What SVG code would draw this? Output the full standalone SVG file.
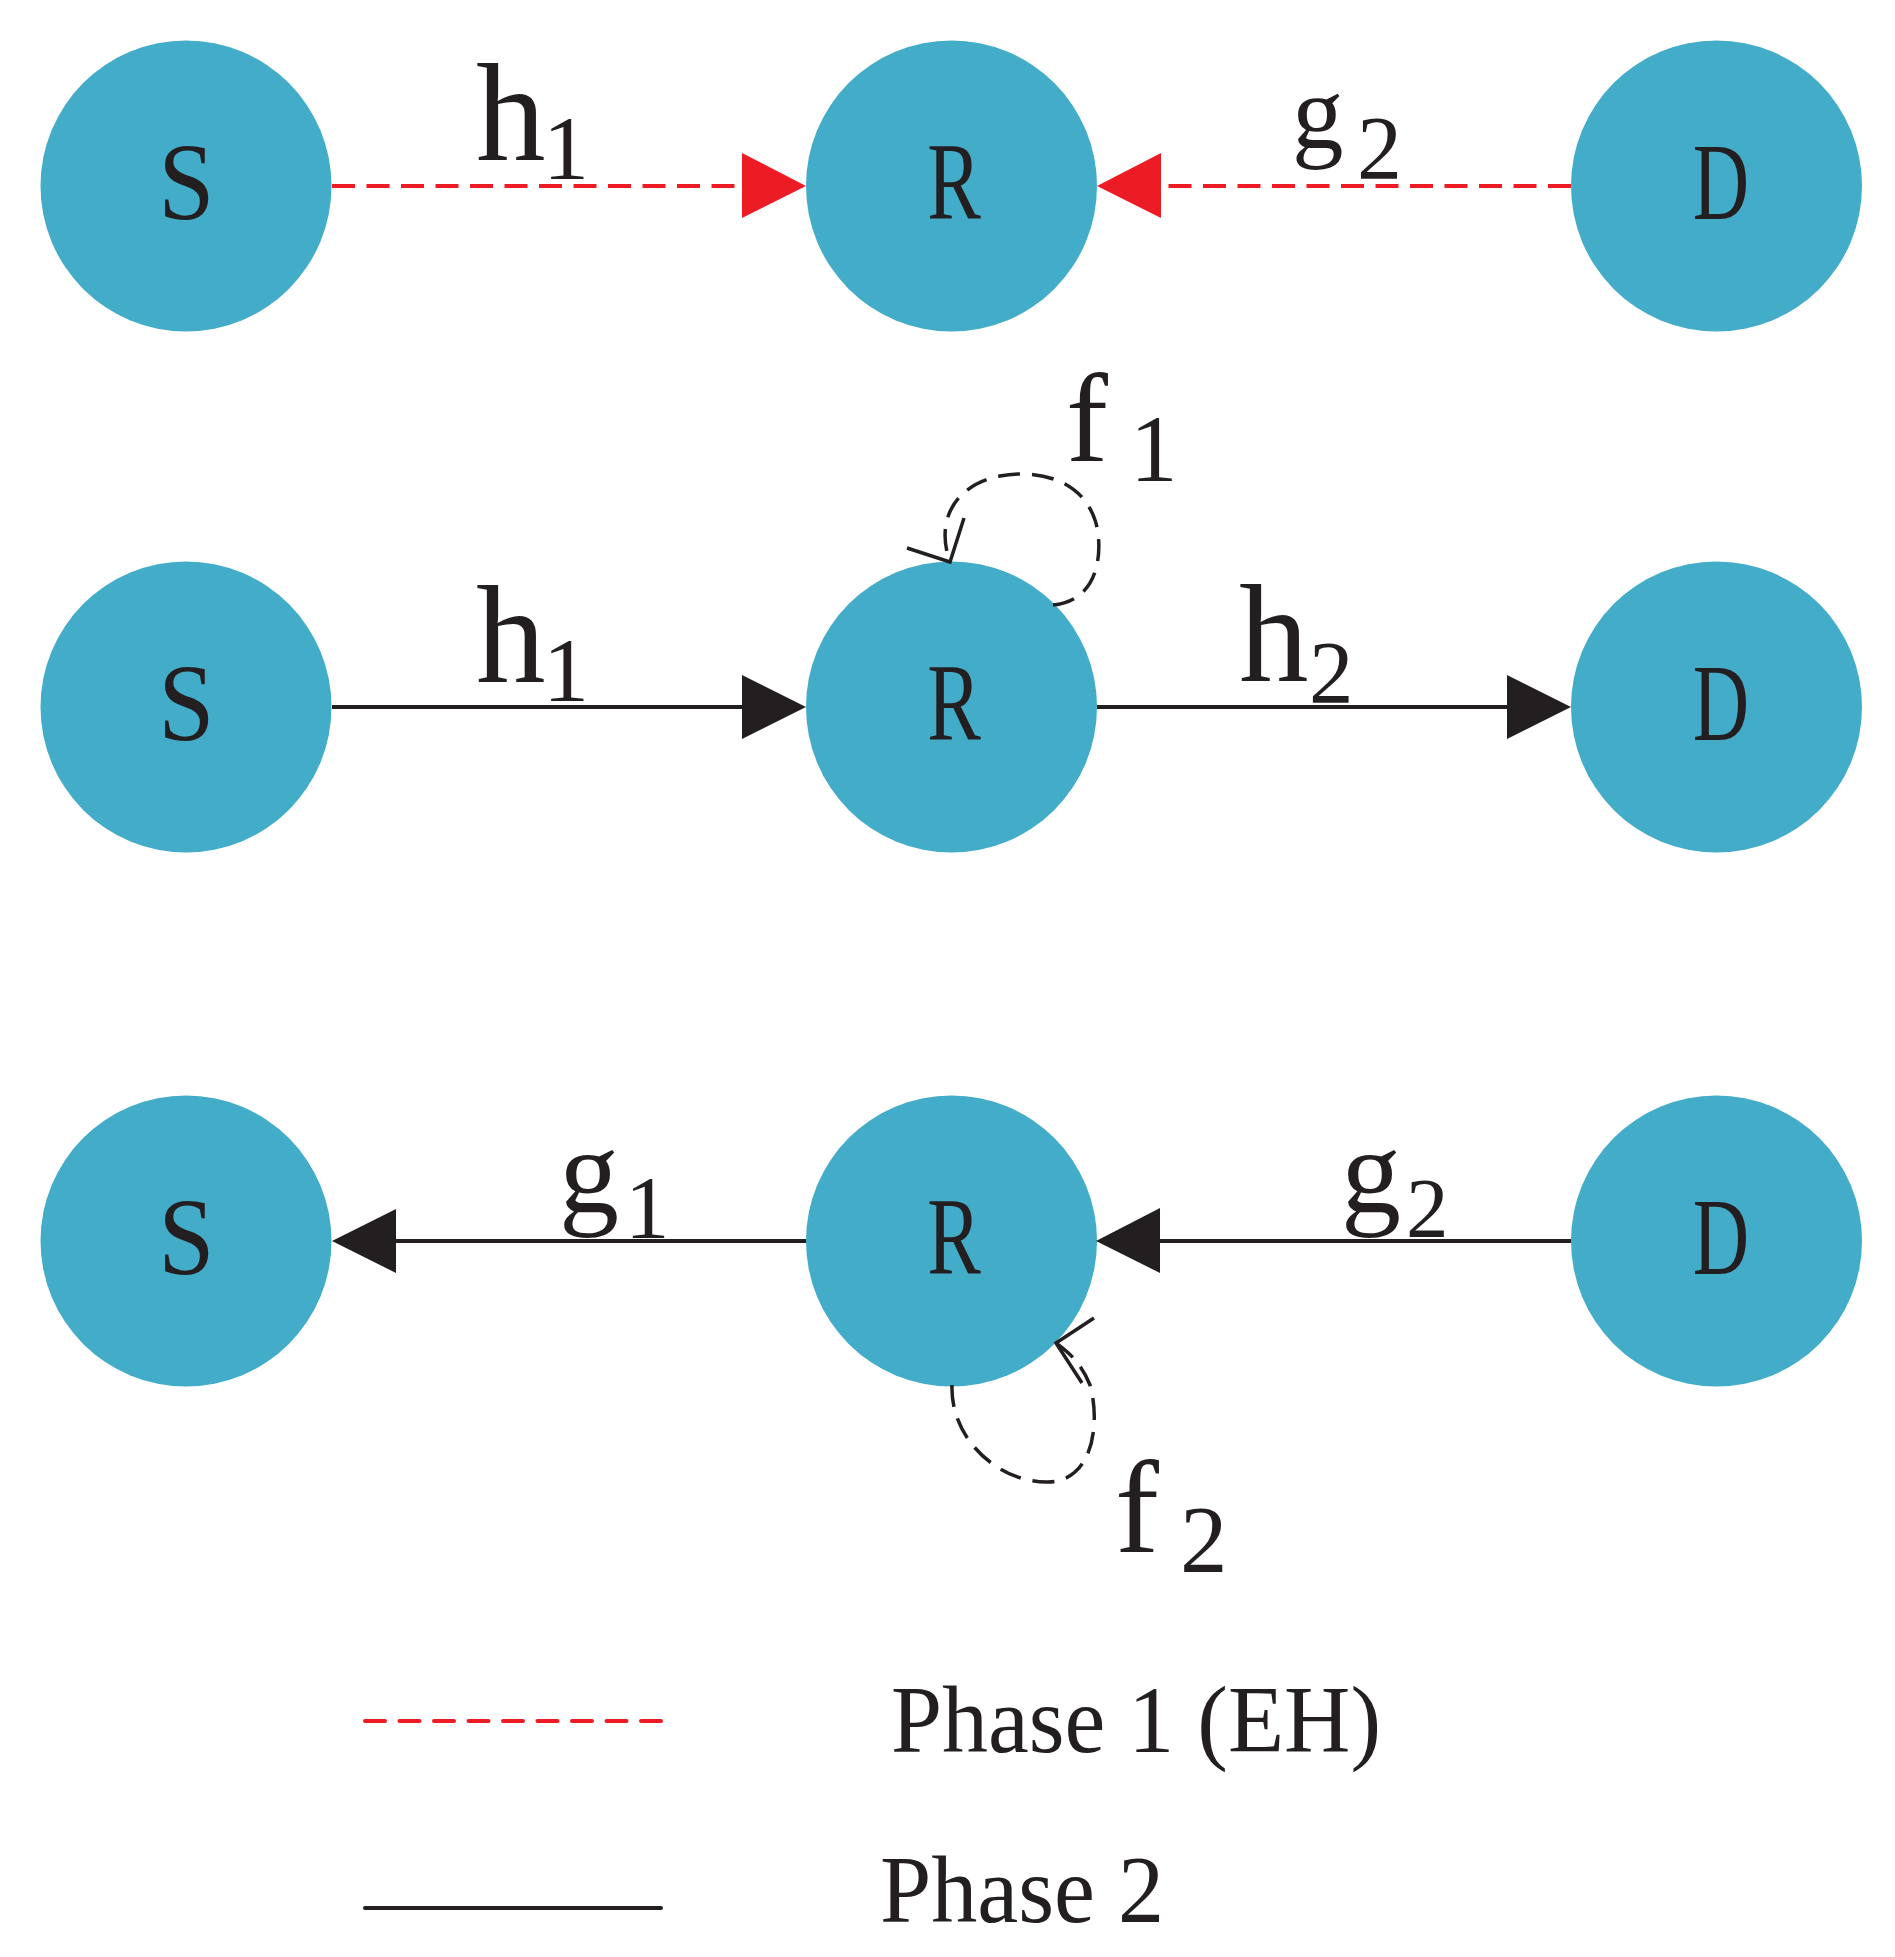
<svg xmlns="http://www.w3.org/2000/svg" width="1895" height="1957" viewBox="0 0 1895 1957">
<style>
.node{fill:#43acc8}
.nl{font-family:"Liberation Serif","Times New Roman",serif;font-size:110px;fill:#231f20;text-anchor:middle}
.lab{font-family:"Liberation Serif","Times New Roman",serif;fill:#231f20}
.red{stroke:#ed1c24;stroke-width:4;fill:none;stroke-dasharray:23 11.5}
.blk{stroke:#231f20;stroke-width:4;fill:none}
.loop{stroke:#231f20;stroke-width:3.5;fill:none;stroke-dasharray:22 12}
.ah{stroke:#231f20;stroke-width:3.5;fill:none}
.leg{font-family:"Liberation Serif","Times New Roman",serif;font-size:96px;fill:#231f20}
</style>
<g id="row1">
<g id="S1"><circle class="node" cx="186" cy="186" r="145.5"/><text class="nl" transform="translate(186.5,219) scale(0.92,1)">S</text></g>
<g id="R1"><circle class="node" cx="951.5" cy="186" r="145.5"/><text class="nl" transform="translate(954,219) scale(0.73,1)">R</text></g>
<g id="D1"><circle class="node" cx="1716.5" cy="186" r="145.5"/><text class="nl" transform="translate(1721,219) scale(0.71,1)">D</text></g>
</g>
<g id="row2">
<g id="S2"><circle class="node" cx="186" cy="707" r="145.5"/><text class="nl" transform="translate(186.5,740) scale(0.92,1)">S</text></g>
<g id="R2"><circle class="node" cx="951.5" cy="707" r="145.5"/><text class="nl" transform="translate(954,740) scale(0.73,1)">R</text></g>
<g id="D2"><circle class="node" cx="1716.5" cy="707" r="145.5"/><text class="nl" transform="translate(1721,740) scale(0.71,1)">D</text></g>
</g>
<g id="row3">
<g id="S3"><circle class="node" cx="186" cy="1241" r="145.5"/><text class="nl" transform="translate(186.5,1274) scale(0.92,1)">S</text></g>
<g id="R3"><circle class="node" cx="951.5" cy="1241" r="145.5"/><text class="nl" transform="translate(954,1274) scale(0.73,1)">R</text></g>
<g id="D3"><circle class="node" cx="1716.5" cy="1241" r="145.5"/><text class="nl" transform="translate(1721,1274) scale(0.71,1)">D</text></g>
</g>
<g id="connectors">
<line class="red" x1="332" y1="186" x2="745" y2="186"/>
<polygon fill="#ed1c24" points="742,153 806,186 742,218"/>
<line class="red" x1="1571" y1="186" x2="1158" y2="186"/>
<polygon fill="#ed1c24" points="1161,153 1097,186 1161,218"/>
<line class="blk" x1="332" y1="707" x2="745" y2="707"/>
<polygon fill="#231f20" points="742,675 806,707 742,739"/>
<line class="blk" x1="1097" y1="707" x2="1510" y2="707"/>
<polygon fill="#231f20" points="1507,675 1571,707 1507,739"/>
<line class="blk" x1="806" y1="1241" x2="393" y2="1241"/>
<polygon fill="#231f20" points="396,1209 332,1241 396,1273"/>
<line class="blk" x1="1571" y1="1241" x2="1157" y2="1241"/>
<polygon fill="#231f20" points="1160,1208 1096,1241 1160,1273"/>
<path class="loop" d="M1053,605 C1105,600 1102,540 1095,520 C1080,475 1030,470 1000,476 C955,485 935,520 950,562"/>
<polyline class="ah" points="907,548 950,562 964,518"/>
<path class="loop" d="M952,1385 C950,1440 1000,1483 1048,1482 C1095,1481 1100,1420 1090,1385 C1080,1360 1065,1350 1056,1343"/>
<polyline class="ah" points="1094,1318 1056,1343 1082,1383"/>
</g>
<g id="labels">
<text class="lab"><tspan x="476" y="160" font-size="139">h</tspan><tspan x="543" y="179" font-size="92">1</tspan></text>
<text class="lab"><tspan x="1292" y="148" font-size="103">g</tspan><tspan x="1357" y="179" font-size="90">2</tspan></text>
<text class="lab"><tspan x="1066" y="461" font-size="126">f</tspan><tspan x="1130" y="481" font-size="95">1</tspan></text>
<text class="lab"><tspan x="476" y="682" font-size="139">h</tspan><tspan x="543" y="701" font-size="92">1</tspan></text>
<text class="lab"><tspan x="1239" y="681" font-size="139">h</tspan><tspan x="1309" y="702" font-size="89">2</tspan></text>
<text class="lab"><tspan x="559" y="1212" font-size="120">g</tspan><tspan x="625" y="1237" font-size="89">1</tspan></text>
<text class="lab"><tspan x="1341" y="1212" font-size="120">g</tspan><tspan x="1406" y="1237" font-size="85">2</tspan></text>
<text class="lab"><tspan x="1115" y="1552" font-size="132">f</tspan><tspan x="1180" y="1572" font-size="95">2</tspan></text>
</g>
<g id="legend">
<line x1="365" y1="1721" x2="661" y2="1721" stroke="#ed1c24" stroke-width="4" stroke-dasharray="20 14.5" stroke-linecap="round"/>
<text class="leg" x="891" y="1752" textLength="490" lengthAdjust="spacingAndGlyphs">Phase 1 (EH)</text>
<line x1="365" y1="1908" x2="661" y2="1908" stroke="#231f20" stroke-width="4" stroke-linecap="round"/>
<text class="leg" x="880" y="1922" textLength="284" lengthAdjust="spacingAndGlyphs">Phase 2</text>
</g>
</svg>
